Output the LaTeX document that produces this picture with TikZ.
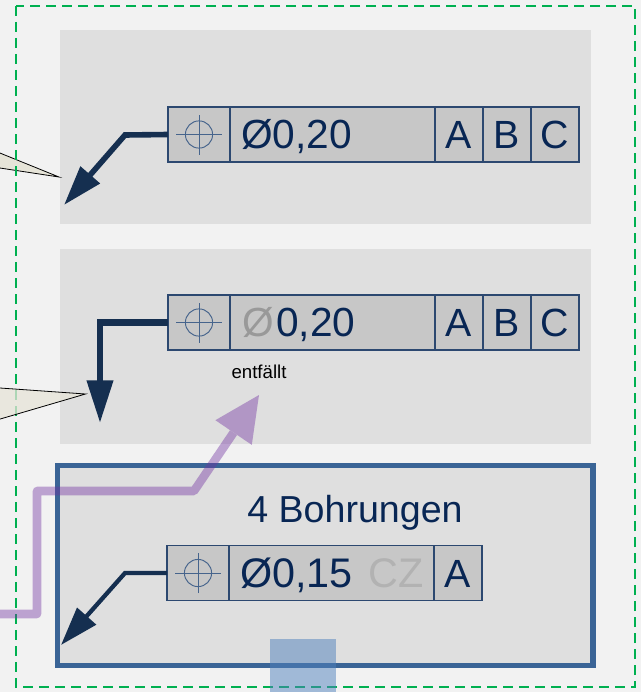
\documentclass[tikz,border=0pt]{standalone}
\usepackage{fontspec}
\setmainfont{Liberation Sans}
\usepackage{tikz}
\usetikzlibrary{arrows.meta,positioning}
\definecolor{fontnavy}{RGB}{8, 38, 84}
\definecolor{leaderblue}{RGB}{21, 47, 80}
\definecolor{cellline}{RGB}{44, 72, 112}
\definecolor{symline}{RGB}{70, 100, 140}
\definecolor{framegreen}{RGB}{0, 176, 80}
\definecolor{frameblue}{RGB}{58, 100, 150}
\definecolor{calloutfill}{RGB}{230, 228, 216}
\definecolor{mauve}{RGB}{112, 48, 160}
\definecolor{squareblue}{RGB}{79, 129, 189}
\begin{document}
\begin{tikzpicture}[x=0.75pt, y=-0.75pt, node distance=0pt,
		cell/.style={draw=cellline, line width=1.1pt, fill=black!22, outer sep=0pt, inner sep=0pt, minimum height=41.25pt, text height=21.5pt, text depth=0pt, text=fontnavy, font=\fontsize{29.5}{29.5}\selectfont},
		symcell/.style={cell, minimum width=46.5pt, path picture={
			\draw[symline, line width=0.7pt] (path picture bounding box.center) circle (10.2pt);
			\draw[symline, line width=0.7pt] ([xshift=-17pt]path picture bounding box.center) -- ([xshift=17pt]path picture bounding box.center);
			\draw[symline, line width=0.7pt] ([yshift=-15pt]path picture bounding box.center) -- ([yshift=15pt]path picture bounding box.center);
		}},
		valcell/.style={cell, inner xsep=8.25pt, text width=137.25pt, align=left, font=\fontsize{30.5}{30.5}\selectfont},
		refcell/.style={cell, minimum width=36pt},
		panel/.style={fill=black!12.5},
		leader/.style={color=leaderblue, line width=4.2pt, line join=miter},
		callout/.style={draw=black, line width=0.6pt, fill=calloutfill},
		markarrow/.style={color=mauve, line width=6.4pt, line join=round, -{Triangle[length=34pt, width=33pt, line width=0pt]}},
		]
		
		\useasboundingbox (0,0) rectangle (641,692);
		\fill[black!5] (0,0) rectangle (641,692);
		
		\fill[panel] (60,30) rectangle (591,224);
		\fill[panel] (60,249) rectangle (591,444);
		\draw[panel, draw=frameblue, line width=4.1pt] (57.3,465.3) rectangle (593,665.5);
		
		\draw[callout] (-10,149) -- (59,177) -- (-10,166.5) -- cycle;
		\draw[framegreen, line width=1.6pt, dash pattern=on 7.5pt off 4.5pt] (16,6) rectangle (635,687);
		\draw[callout, fill opacity=0.75] (-10,387.3) -- (85.5,394) -- (-10,422) -- cycle;
		
		\node[symcell, anchor=west] (s1) at (168,134.5) {};
		\node[valcell, right=of s1] (v1) {Ø0,20};
		\node[refcell, right=of v1] (a1) {A};
		\node[refcell, right=of a1] (b1) {B};
		\node[refcell, right=of b1] (c1) {C};
		
		\node[symcell, anchor=west] (s2) at (168,322.5) {};
		\node[valcell, right=of s2] (v2) {\hspace*{1.2pt}\textcolor{black!40}{Ø}\hspace{1.5pt}0,20};
		\node[refcell, right=of v2] (a2) {A};
		\node[refcell, right=of a2] (b2) {B};
		\node[refcell, right=of b2] (c2) {C};
		
		\node[symcell, anchor=west] (s3) at (167,573) {};
		\node[valcell, right=of s3, font=\fontsize{31}{31}\selectfont] (v3) {\mbox{Ø0,15\hspace{12pt}\textcolor{black!30}{CZ}}};
		\node[refcell, right=of v3] (a3) {A};
		
		\node[font=\fontsize{14}{14}\selectfont, text=black] (drop) at (259,372) {entfällt};
		\node[font=\fontsize{28.2}{28.2}\selectfont, text=fontnavy] (holes) at (355,513) {4 Bohrungen};
		
		\coordinate (k1) at (125,135);
		\coordinate (t1) at (64,205);
		\coordinate (k2) at (100,322.5);
		\coordinate (t2) at (100,423);
		\coordinate (k3) at (125,573);
		\coordinate (t3) at (61,645);
		
		\draw [leader, -{Triangle[length=30pt, width=18.5pt]}] (s1.west) -- (k1) -- (t1);
		\draw [leader, line width=4.6pt, -{Triangle[length=32pt, width=19pt]}] (s2.west) -- (k2) -- (t2);
		\draw [leader, line width=3.2pt, -{Triangle[length=29pt, width=18.5pt]}] (s3.west) -- (k3) -- (t3);
		
		\coordinate (m0) at (0,614);
		\coordinate (m1) at (37,614);
		\coordinate (m2) at (37,491);
		\coordinate (m3) at (194,491);
		\coordinate (m4) at (259,395);
		\begin{scope}[transparency group, opacity=0.41]
		\draw [markarrow] (m0) -- (m1) -- (m2) -- (m3) -- (m4);
		\end{scope}
		
		\fill[squareblue, opacity=0.5] (270,639) rectangle (336,692);
		
		\end{tikzpicture}
\end{document}
